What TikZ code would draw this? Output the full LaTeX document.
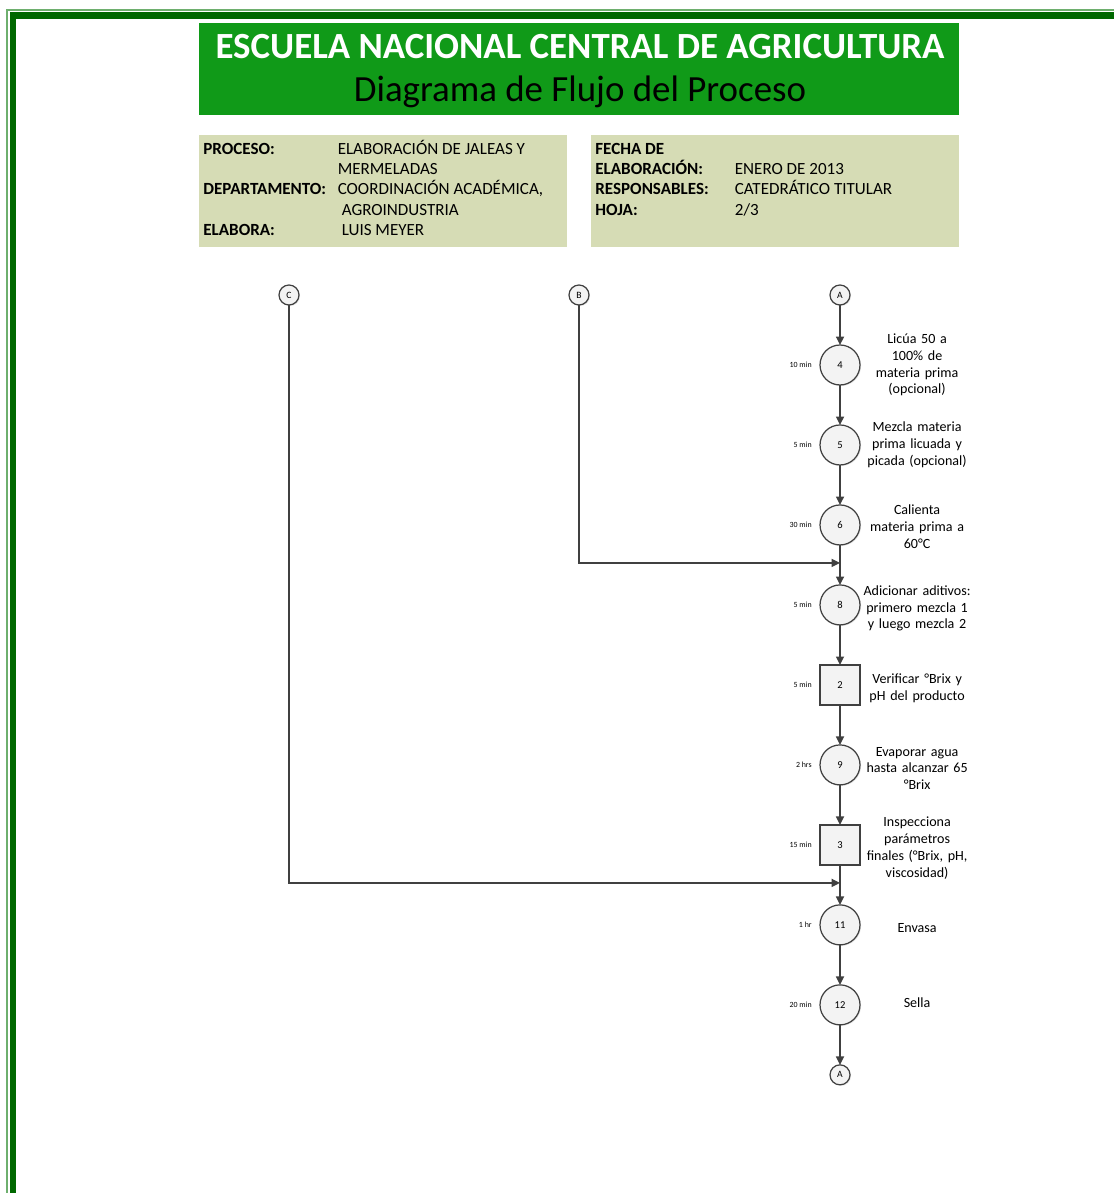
\documentclass[tikz,border=0pt]{standalone}
\usepackage{fontspec}
\setmainfont{Carlito}
\usetikzlibrary{arrows.meta,positioning,calc,shadows}
\definecolor{framecol}{RGB}{0,104,0}
\definecolor{framelt}{RGB}{110,175,110}
\definecolor{headcol}{RGB}{16,154,24}
\definecolor{infocol}{RGB}{214,220,181}
\definecolor{stepline}{RGB}{64,64,64}
\definecolor{stepfill}{RGB}{243,243,243}

\begin{document}
\begin{tikzpicture}[
  x=0.02cm, y=-0.02cm, node distance=0.8cm,
  op/.style={circle, draw=stepline, fill=stepfill, line width=0.7pt, minimum size=0.8cm,
             inner sep=0pt, outer sep=0pt, font=\fontsize{6}{7}\selectfont,
             drop shadow={opacity=0.2, shadow xshift=0.6pt, shadow yshift=-0.6pt}},
  insp/.style={op, rectangle},
  conn/.style={op, minimum size=0.4cm, font=\fontsize{5.5}{6}\selectfont},
  desc/.style={text width=2.2cm, align=center, inner sep=0pt,
               font=\fontsize{8}{9.6}\selectfont},
  tm/.style={inner sep=0pt, font=\fontsize{4.5}{5}\selectfont},
  flow/.style={draw=stepline, line width=0.8pt, -{Triangle[length=4.8pt, width=4.6pt]}},
  info/.style={anchor=base west, inner sep=0pt, font=\fontsize{9.7}{11.6}\selectfont}
]
\useasboundingbox (0,0) rectangle (1113,1193);

% page frame
\draw[framelt, line width=0.6pt] (7,1200) -- (7,10) -- (1120,10);
\draw[framecol, line width=3.7pt] (12.8,1200) -- (12.8,15.7) -- (1120,15.7);

% header
\fill[headcol] (199,23) rectangle (959,115);
\node[text=white, font=\fontsize{21}{24}\selectfont\bfseries] (title) at (580,47)
  {ESCUELA NACIONAL CENTRAL DE AGRICULTURA};
\node[font=\fontsize{21}{24}\selectfont] (subtitle) at (580,92)
  {Diagrama de Flujo del Proceso};

\fill[infocol] (199,135) rectangle (567,247);
\fill[infocol] (591,135) rectangle (959,247);
\node[info] (infoL) at (203,154) {%
  \begin{tabular}[t]{@{}p{76.5pt}@{}l@{}}
  \textbf{PROCESO:} & ELABORACIÓN DE JALEAS Y\\
   & MERMELADAS\\
  \textbf{DEPARTAMENTO:} & COORDINACIÓN ACADÉMICA,\\
   & \hspace{2.3pt}AGROINDUSTRIA\\
  \textbf{ELABORA:} & \hspace{2.3pt}LUIS MEYER
  \end{tabular}};
\node[info] (infoR) at (595,154) {%
  \begin{tabular}[t]{@{}p{79.4pt}@{}l@{}}
  \textbf{FECHA DE} & \\
  \textbf{ELABORACIÓN:} & ENERO DE 2013\\
  \textbf{RESPONSABLES:} & CATEDRÁTICO TITULAR\\
  \textbf{HOJA:} & 2/3
  \end{tabular}};

% process chain
\node[conn] (aT) at (840,295) {A};
\node[conn] (cB) at (579,295) {B};
\node[conn] (cC) at (289,295) {C};

\node[op, below=of aT] (s4) {4};
\node[op, below=of s4] (s5) {5};
\node[op, below=of s5] (s6) {6};
\node[op, below=of s6] (s8) {8};
\node[insp, below=of s8] (i2) {2};
\node[op, below=of i2] (s9) {9};
\node[insp, below=of s9] (i3) {3};
\node[op, below=of i3] (s11) {11};
\node[op, below=of s11] (s12) {12};
\node[conn, below=of s12] (aB) {A};

\coordinate (jB) at ($(s6.south)!0.45!(s8.north)$);
\coordinate (jC) at ($(i3.south)!0.45!(s11.north)$);

% times
\node[tm, left=0.16cm of s4] (t4) {10 min};
\node[tm, left=0.16cm of s5] (t5) {5 min};
\node[tm, left=0.16cm of s6] (t6) {30 min};
\node[tm, left=0.16cm of s8] (t8) {5 min};
\node[tm, left=0.16cm of i2] (t2) {5 min};
\node[tm, left=0.16cm of s9] (t9) {2 hrs};
\node[tm, left=0.16cm of i3] (t3) {15 min};
\node[tm, left=0.16cm of s11] (t11) {1 hr};
\node[tm, left=0.16cm of s12] (t12) {20 min};

% descriptions
\node[desc, right=1pt of s4] (d4) {Licúa 50 a\\100\% de\\materia prima\\(opcional)};
\node[desc, right=1pt of s5] (d5) {Mezcla materia\\prima licuada y\\picada (opcional)};
\node[desc, right=1pt of s6, yshift=-1pt] (d6) {Calienta\\materia prima a\\60°C};
\node[desc, right=1pt of s8, yshift=-2pt] (d8) {Adicionar aditivos:\\primero mezcla 1\\y luego mezcla 2};
\node[desc, right=1pt of i2, yshift=-2pt] (d2) {Verificar °Brix y\\pH del producto};
\node[desc, right=1pt of s9, yshift=-2pt] (d9) {Evaporar agua\\hasta alcanzar 65\\°Brix};
\node[desc, right=1pt of i3, yshift=-2pt] (d3) {Inspecciona\\parámetros\\finales (°Brix, pH,\\viscosidad)};
\node[desc, right=1pt of s11, yshift=-2pt] (d11) {Envasa};
\node[desc, right=1pt of s12, yshift=1pt] (d12) {Sella};

% connectors
\draw[flow] (aT) -- (s4);
\draw[flow] (s4) -- (s5);
\draw[flow] (s5) -- (s6);
\draw[flow] (s6) -- (s8);
\draw[flow] (s8) -- (i2);
\draw[flow] (i2) -- (s9);
\draw[flow] (s9) -- (i3);
\draw[flow] (i3) -- (s11);
\draw[flow] (s11) -- (s12);
\draw[flow] (s12) -- (aB);
\draw[flow] (cB) |- (jB);
\draw[flow] (cC) |- (jC);
\end{tikzpicture}
\end{document}
